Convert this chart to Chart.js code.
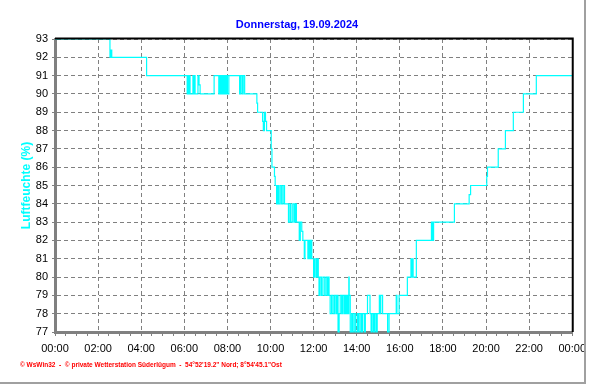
<!DOCTYPE html>
<html>
<head>
<meta charset="utf-8">
<script src="https://cdn.jsdelivr.net/npm/chart.js@4/dist/chart.umd.min.js"></script>
<style>
html,body{margin:0;padding:0;background:#fff;}
#wrap{width:592px;height:384px;position:relative;}
</style>
</head>
<body>
<div id="wrap"><canvas id="c" width="592" height="384"></canvas></div>
<script>
const chartTitle = "Donnerstag, 19.09.2024";
const yAxisTitle = "Luftfeuchte (%)";
const footerText = "\u00A9 WsWin32  -  \u00A9 private Wetterstation S\u00FCderl\u00FCgum  -  54\u00B052'19.2\" Nord; 8\u00B054'45.1\"Ost";
const xTickLabels = ["00:00","02:00","04:00","06:00","08:00","10:00","12:00","14:00","16:00","18:00","20:00","22:00","00:00"];
const yTickValues = [77,78,79,80,81,82,83,84,85,86,87,88,89,90,91,92,93];

// times at which the humidity changes to the listed value
const times = [
"00:00","02:33","02:36","02:38","04:15",
"06:08","06:10","06:12","06:14","06:16","06:24","06:26","06:28","06:30","06:38","06:41","06:44",
"07:23","07:36","07:39","07:42","07:45","07:48","07:51","07:54","07:57","08:00","08:04",
"08:34","08:37","08:41","08:44","08:48",
"09:22","09:24","09:38","09:40","09:43","09:46","09:49",
"10:02","10:04","10:11","10:13","10:17","10:20","10:23","10:27","10:31","10:35","10:39",
"10:50","10:54","10:57","11:02","11:06","11:09","11:12",
"11:20","11:23","11:27","11:30","11:34","11:36","11:44","11:47","11:50","11:53","11:55",
"12:00","12:03","12:07","12:10","12:13",
"12:15","12:18","12:22","12:26","12:31","12:35","12:39","12:41","12:43",
"12:46","12:50","12:54","12:58","13:02","13:05","13:08","13:11","13:14","13:18","13:21","13:25","13:28","13:31","13:34","13:36","13:38","13:39",
"13:42","13:46","13:49","13:53","13:57","14:02","14:05","14:09","14:13","14:16","14:21","14:24",
"14:30","14:37","14:40","14:43","14:47","14:50","14:54","14:57",
"15:03","15:05","15:07","15:12","15:26","15:30","15:50","15:52","15:58",
"16:21","16:31","16:33","16:35","16:37","16:46",
"17:28","17:31","17:34","17:36",
"18:32","19:13","19:17","20:02","20:04","20:34","20:54","21:16","21:44","22:20","24:00"
];
const humidity = [
93,92,92.4,92,91,
90,91,90,91,90,91,90,91,90,91,90.5,90,
91,90,91,90,91,90,91,90,91,90,91,
90,91,90,91,90,
89.5,89,88.5,88,89,88.5,88,
87,86,85.5,85,84,85,84,85,84,85,84,
83,84,83,84,83,84,83,
82,83,82.5,82,81,82,81,82,81,82,81,
80,81,80,81,80,
79,80,79,80,79,80,79,80,79,
78,79,78,79,78,79,77,78,79,78,79,78,79,78,79,78,80,79,
77,78,77,78,77,78,77,78,77,78,77,78,
79,78,77,78,77,78,77,78,
79,78,79,78,77,78,79,78,79,
80,81,80,81,80,82,
83,82,83,83,
84,84.5,85,85.5,86,87,88,89,90,91,91
];

function toMinutes(s){ const p = s.split(":"); return (+p[0])*60 + (+p[1]); }
const points = times.map((t,i)=>({x: toMinutes(t), y: humidity[i]}));

const GRID = '#808080';

const decor = {
  id: 'decor',
  beforeDraw(chart){
    const ctx = chart.ctx;
    ctx.save();
    ctx.fillStyle = '#ffffff';
    ctx.fillRect(0,0,chart.width,chart.height);
    ctx.restore();
  },
  afterDatasetsDraw(chart){
    const {ctx, chartArea:a} = chart;
    ctx.save();
    ctx.strokeStyle = '#000000';
    ctx.lineWidth = 2;
    ctx.beginPath();
    ctx.moveTo(a.left, a.top - 0.5);
    ctx.lineTo(a.right + 1.5, a.top - 0.5);
    ctx.moveTo(a.right + 0.5, a.top - 0.5);
    ctx.lineTo(a.right + 0.5, a.bottom);
    ctx.stroke();
    ctx.restore();
  },
  afterDraw(chart){
    const ctx = chart.ctx;
    ctx.save();
    ctx.fillStyle = '#0000FF';
    ctx.font = 'bold 11px "Liberation Sans", Arial, sans-serif';
    ctx.textAlign = 'center';
    ctx.textBaseline = 'alphabetic';
    ctx.fillText(chartTitle, 297, 28);
    ctx.fillStyle = '#FF0000';
    ctx.font = 'bold 6.5px "Liberation Sans", Arial, sans-serif';
    ctx.textAlign = 'left';
    ctx.fillText(footerText, 20, 366.5, 270);
    ctx.strokeStyle = '#a0a0a0';
    ctx.lineWidth = 2;
    ctx.beginPath();
    ctx.moveTo(585, 0);
    ctx.lineTo(585, 383);
    ctx.moveTo(0, 383);
    ctx.lineTo(586, 383);
    ctx.stroke();
    ctx.restore();
  }
};

new Chart(document.getElementById('c'), {
  type: 'line',
  data: {
    datasets: [{
      data: points,
      borderColor: '#00FFFF',
      backgroundColor: '#00FFFF',
      borderWidth: 1.2,
      pointRadius: 0,
      stepped: true,
      fill: false,
      clip: 3
    }]
  },
  options: {
    responsive: false,
    animation: false,
    events: [],
    layout: { padding: { left: 0, top: 39, right: 19, bottom: 0 } },
    plugins: { legend: { display: false }, tooltip: { enabled: false }, title: { display: false } },
    scales: {
      x: {
        type: 'linear',
        min: 0, max: 1440,
        afterFit(scale){ scale.height = 52; },
        ticks: {
          stepSize: 30,
          autoSkip: false,
          maxRotation: 0,
          minRotation: 0,
          padding: 6,
          color: '#000000',
          font: { family: '"Liberation Sans", Arial, sans-serif', size: 11 },
          callback: (v) => (v % 120 === 0 ? xTickLabels[v / 120] : '')
        },
        grid: {
          color: (c) => (c.tick && c.tick.value % 120 === 0 ? GRID : 'rgba(0,0,0,0)'),
          tickColor: GRID,
          tickLength: 4,
          lineWidth: 1
        },
        border: { color: GRID, width: 3, dash: [4, 3] }
      },
      y: {
        type: 'linear',
        min: 77, max: 93,
        afterFit(scale){ scale.width = 55; },
        afterBuildTicks(scale){ scale.ticks = yTickValues.map(v => ({ value: v })); },
        ticks: {
          stepSize: 1,
          autoSkip: false,
          padding: 4,
          color: '#000000',
          font: { family: '"Liberation Sans", Arial, sans-serif', size: 11 }
        },
        grid: { color: GRID, tickColor: GRID, tickLength: 3, lineWidth: 1 },
        border: { color: GRID, width: 3, dash: [4, 3] },
        title: {
          display: true,
          text: yAxisTitle,
          color: '#00FFFF',
          font: { family: '"Liberation Sans", Arial, sans-serif', size: 12, weight: 'bold' },
          padding: { top: 19, bottom: 0 }
        }
      }
    }
  },
  plugins: [decor]
});
</script>
</body>
</html>
